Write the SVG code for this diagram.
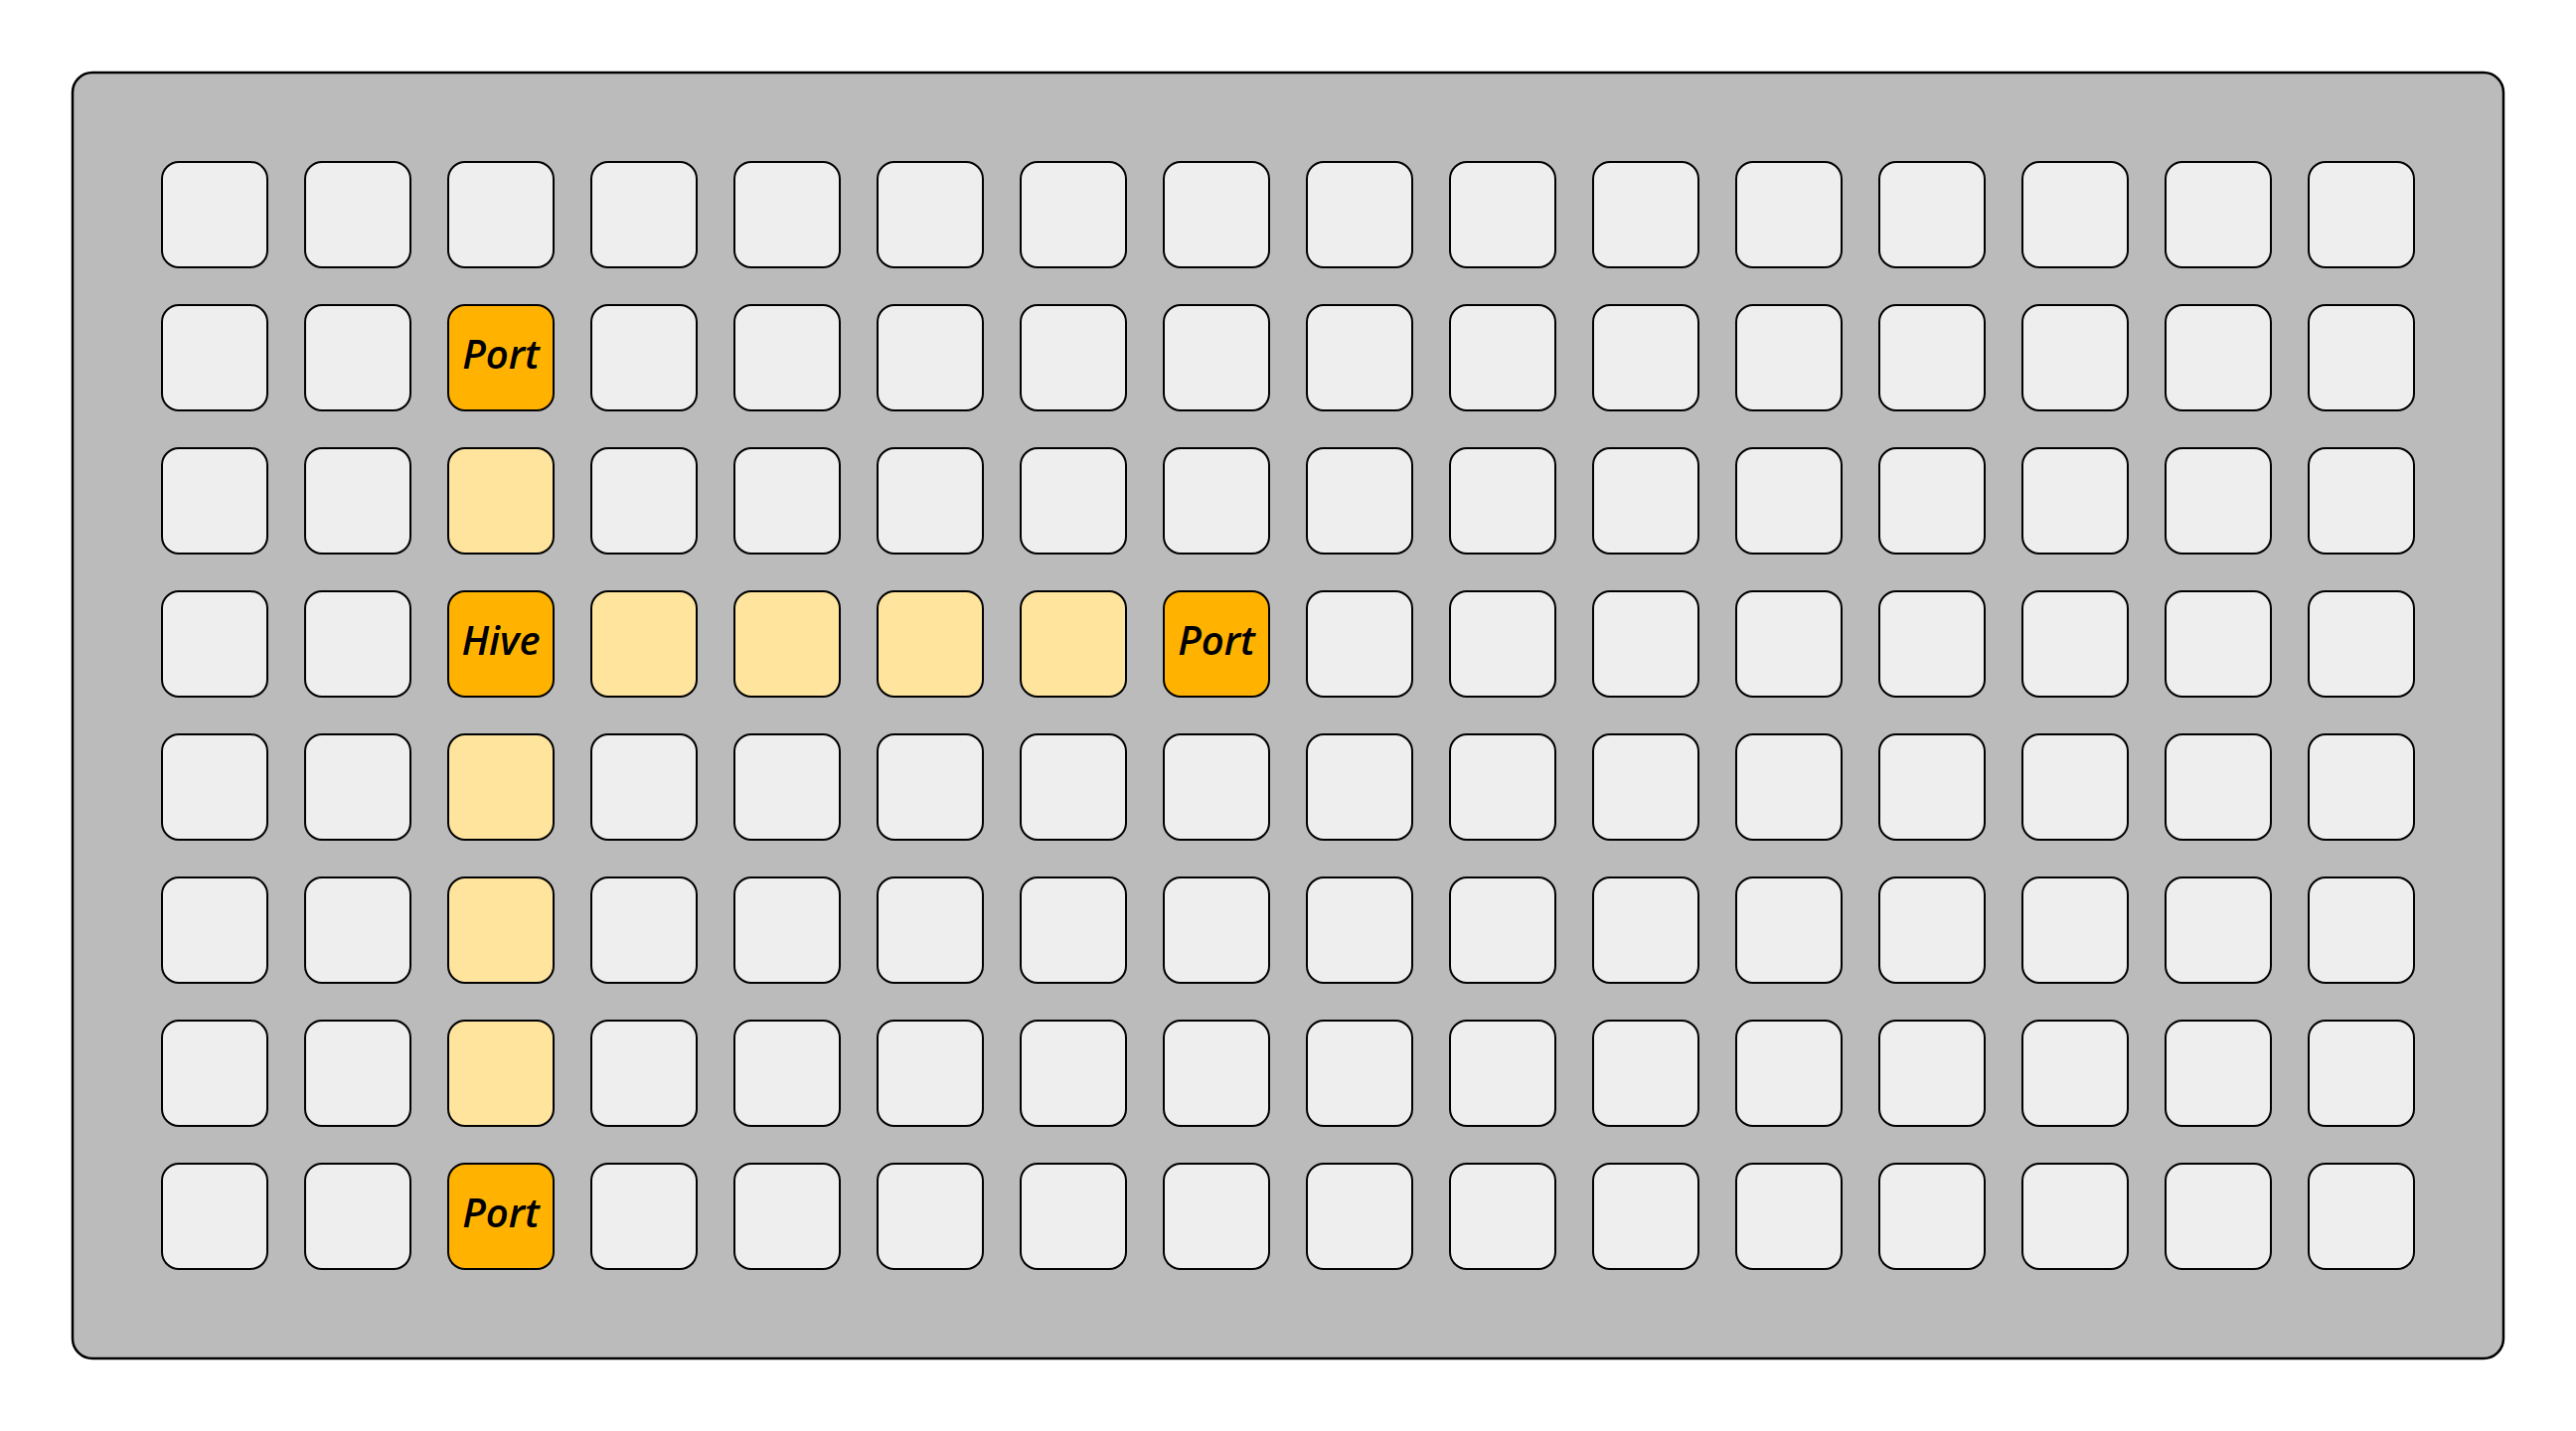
<svg xmlns="http://www.w3.org/2000/svg" width="2592" height="1440" viewBox="0 0 2592 1440">
<style>
.bg{fill:#bbbbbb;stroke:#000;stroke-width:2.5}
.c{fill:#eeeeee;stroke:#000;stroke-width:2}
.l{fill:#ffe49e;stroke:#000;stroke-width:2}
.o{fill:#ffb300;stroke:#000;stroke-width:2}
.t{font-family:"Open Sans","Noto Sans",sans-serif;font-weight:600;font-style:italic;font-size:40px;fill:#000;text-anchor:middle}
</style>
<defs>
<rect id="cell" width="106" height="106" rx="17"/>
</defs>
<g id="board"><rect class="bg" x="73" y="73" width="2446" height="1294" rx="20"/></g>
<g id="cells">
<g id="r0">
<use href="#cell" class="c" x="163" y="163"/><use href="#cell" class="c" x="307" y="163"/><use href="#cell" class="c" x="451" y="163"/><use href="#cell" class="c" x="595" y="163"/><use href="#cell" class="c" x="739" y="163"/><use href="#cell" class="c" x="883" y="163"/><use href="#cell" class="c" x="1027" y="163"/><use href="#cell" class="c" x="1171" y="163"/><use href="#cell" class="c" x="1315" y="163"/><use href="#cell" class="c" x="1459" y="163"/><use href="#cell" class="c" x="1603" y="163"/><use href="#cell" class="c" x="1747" y="163"/><use href="#cell" class="c" x="1891" y="163"/><use href="#cell" class="c" x="2035" y="163"/><use href="#cell" class="c" x="2179" y="163"/><use href="#cell" class="c" x="2323" y="163"/>
</g>
<g id="r1">
<use href="#cell" class="c" x="163" y="307"/><use href="#cell" class="c" x="307" y="307"/><use href="#cell" class="c" x="595" y="307"/><use href="#cell" class="c" x="739" y="307"/><use href="#cell" class="c" x="883" y="307"/><use href="#cell" class="c" x="1027" y="307"/><use href="#cell" class="c" x="1171" y="307"/><use href="#cell" class="c" x="1315" y="307"/><use href="#cell" class="c" x="1459" y="307"/><use href="#cell" class="c" x="1603" y="307"/><use href="#cell" class="c" x="1747" y="307"/><use href="#cell" class="c" x="1891" y="307"/><use href="#cell" class="c" x="2035" y="307"/><use href="#cell" class="c" x="2179" y="307"/><use href="#cell" class="c" x="2323" y="307"/>
</g>
<g id="r2">
<use href="#cell" class="c" x="163" y="451"/><use href="#cell" class="c" x="307" y="451"/><use href="#cell" class="l" x="451" y="451"/><use href="#cell" class="c" x="595" y="451"/><use href="#cell" class="c" x="739" y="451"/><use href="#cell" class="c" x="883" y="451"/><use href="#cell" class="c" x="1027" y="451"/><use href="#cell" class="c" x="1171" y="451"/><use href="#cell" class="c" x="1315" y="451"/><use href="#cell" class="c" x="1459" y="451"/><use href="#cell" class="c" x="1603" y="451"/><use href="#cell" class="c" x="1747" y="451"/><use href="#cell" class="c" x="1891" y="451"/><use href="#cell" class="c" x="2035" y="451"/><use href="#cell" class="c" x="2179" y="451"/><use href="#cell" class="c" x="2323" y="451"/>
</g>
<g id="r3">
<use href="#cell" class="c" x="163" y="595"/><use href="#cell" class="c" x="307" y="595"/><use href="#cell" class="l" x="595" y="595"/><use href="#cell" class="l" x="739" y="595"/><use href="#cell" class="l" x="883" y="595"/><use href="#cell" class="l" x="1027" y="595"/><use href="#cell" class="c" x="1315" y="595"/><use href="#cell" class="c" x="1459" y="595"/><use href="#cell" class="c" x="1603" y="595"/><use href="#cell" class="c" x="1747" y="595"/><use href="#cell" class="c" x="1891" y="595"/><use href="#cell" class="c" x="2035" y="595"/><use href="#cell" class="c" x="2179" y="595"/><use href="#cell" class="c" x="2323" y="595"/>
</g>
<g id="r4">
<use href="#cell" class="c" x="163" y="739"/><use href="#cell" class="c" x="307" y="739"/><use href="#cell" class="l" x="451" y="739"/><use href="#cell" class="c" x="595" y="739"/><use href="#cell" class="c" x="739" y="739"/><use href="#cell" class="c" x="883" y="739"/><use href="#cell" class="c" x="1027" y="739"/><use href="#cell" class="c" x="1171" y="739"/><use href="#cell" class="c" x="1315" y="739"/><use href="#cell" class="c" x="1459" y="739"/><use href="#cell" class="c" x="1603" y="739"/><use href="#cell" class="c" x="1747" y="739"/><use href="#cell" class="c" x="1891" y="739"/><use href="#cell" class="c" x="2035" y="739"/><use href="#cell" class="c" x="2179" y="739"/><use href="#cell" class="c" x="2323" y="739"/>
</g>
<g id="r5">
<use href="#cell" class="c" x="163" y="883"/><use href="#cell" class="c" x="307" y="883"/><use href="#cell" class="l" x="451" y="883"/><use href="#cell" class="c" x="595" y="883"/><use href="#cell" class="c" x="739" y="883"/><use href="#cell" class="c" x="883" y="883"/><use href="#cell" class="c" x="1027" y="883"/><use href="#cell" class="c" x="1171" y="883"/><use href="#cell" class="c" x="1315" y="883"/><use href="#cell" class="c" x="1459" y="883"/><use href="#cell" class="c" x="1603" y="883"/><use href="#cell" class="c" x="1747" y="883"/><use href="#cell" class="c" x="1891" y="883"/><use href="#cell" class="c" x="2035" y="883"/><use href="#cell" class="c" x="2179" y="883"/><use href="#cell" class="c" x="2323" y="883"/>
</g>
<g id="r6">
<use href="#cell" class="c" x="163" y="1027"/><use href="#cell" class="c" x="307" y="1027"/><use href="#cell" class="l" x="451" y="1027"/><use href="#cell" class="c" x="595" y="1027"/><use href="#cell" class="c" x="739" y="1027"/><use href="#cell" class="c" x="883" y="1027"/><use href="#cell" class="c" x="1027" y="1027"/><use href="#cell" class="c" x="1171" y="1027"/><use href="#cell" class="c" x="1315" y="1027"/><use href="#cell" class="c" x="1459" y="1027"/><use href="#cell" class="c" x="1603" y="1027"/><use href="#cell" class="c" x="1747" y="1027"/><use href="#cell" class="c" x="1891" y="1027"/><use href="#cell" class="c" x="2035" y="1027"/><use href="#cell" class="c" x="2179" y="1027"/><use href="#cell" class="c" x="2323" y="1027"/>
</g>
<g id="r7">
<use href="#cell" class="c" x="163" y="1171"/><use href="#cell" class="c" x="307" y="1171"/><use href="#cell" class="c" x="595" y="1171"/><use href="#cell" class="c" x="739" y="1171"/><use href="#cell" class="c" x="883" y="1171"/><use href="#cell" class="c" x="1027" y="1171"/><use href="#cell" class="c" x="1171" y="1171"/><use href="#cell" class="c" x="1315" y="1171"/><use href="#cell" class="c" x="1459" y="1171"/><use href="#cell" class="c" x="1603" y="1171"/><use href="#cell" class="c" x="1747" y="1171"/><use href="#cell" class="c" x="1891" y="1171"/><use href="#cell" class="c" x="2035" y="1171"/><use href="#cell" class="c" x="2179" y="1171"/><use href="#cell" class="c" x="2323" y="1171"/>
</g>
</g>
<g id="port-top"><use href="#cell" class="o" x="451" y="307"/><text class="t" x="504" y="371">Port</text></g>
<g id="hive"><use href="#cell" class="o" x="451" y="595"/><text class="t" x="504" y="659">Hive</text></g>
<g id="port-right"><use href="#cell" class="o" x="1171" y="595"/><text class="t" x="1224" y="659">Port</text></g>
<g id="port-bottom"><use href="#cell" class="o" x="451" y="1171"/><text class="t" x="504" y="1235">Port</text></g>
<g id="connectors"></g>
</svg>
